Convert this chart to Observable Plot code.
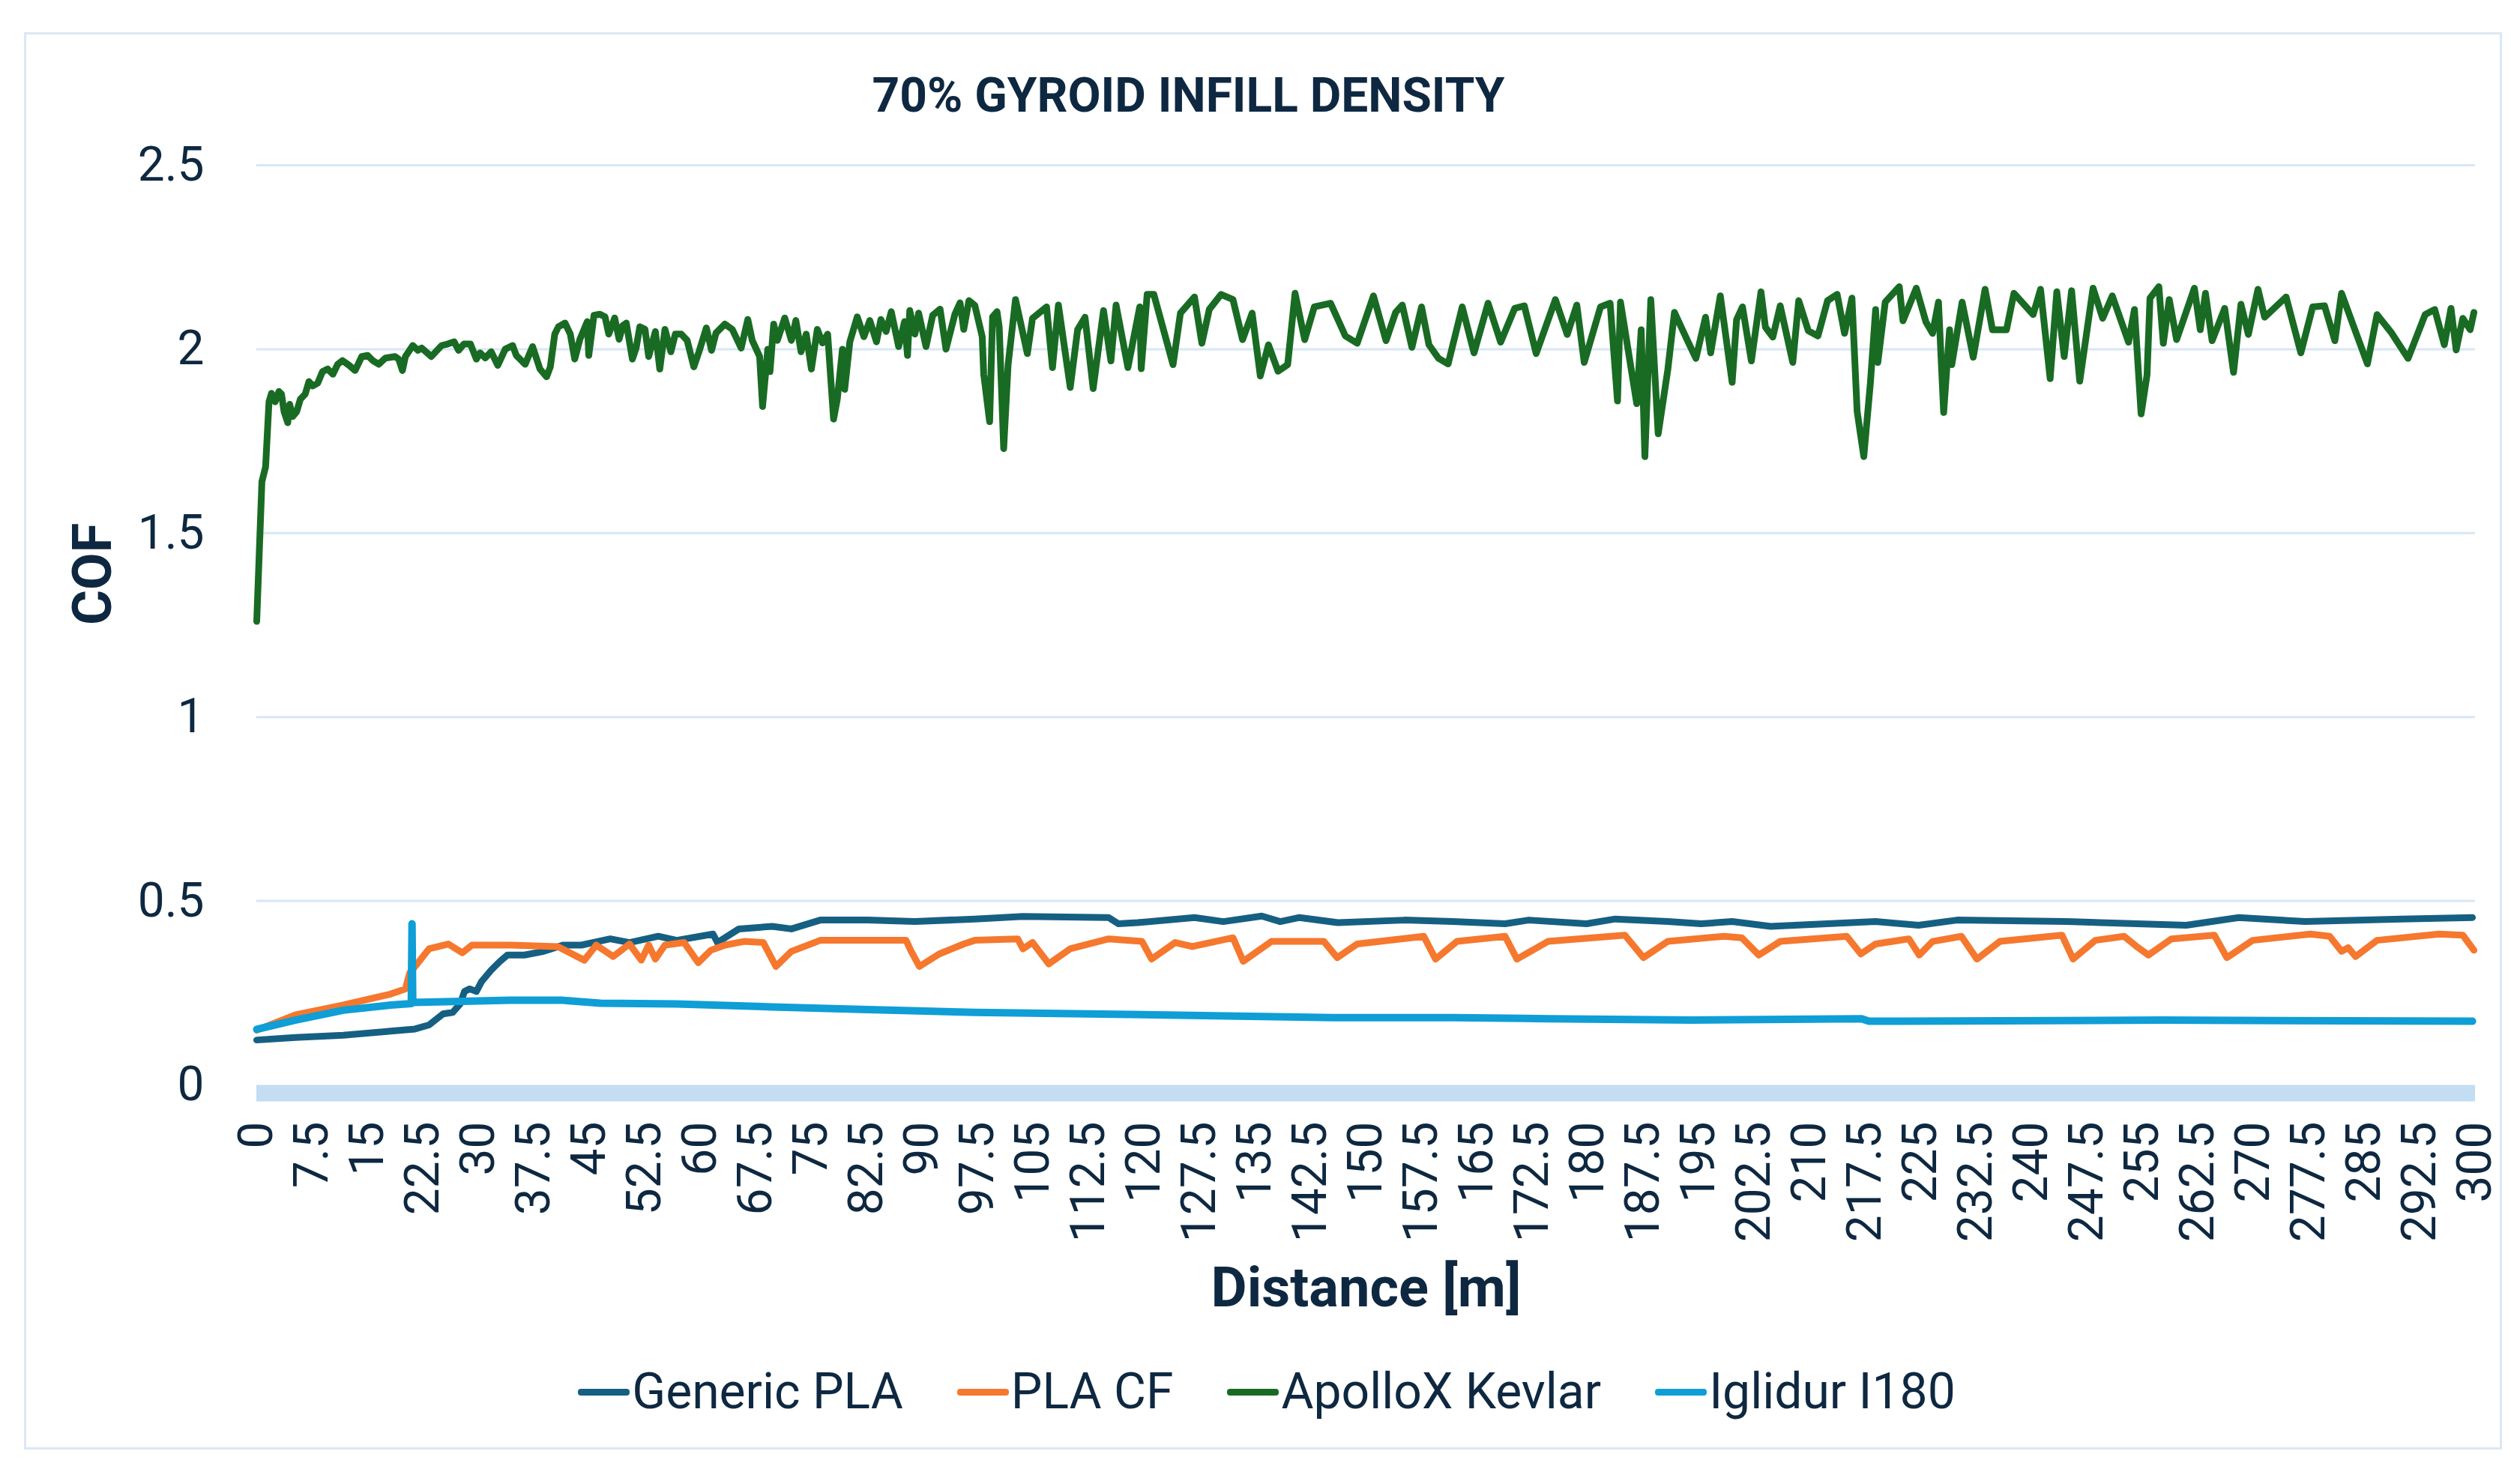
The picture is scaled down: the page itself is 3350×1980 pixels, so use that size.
<!DOCTYPE html>
<html>
<head>
<meta charset="utf-8">
<script src="https://cdn.jsdelivr.net/npm/d3@7"></script>
<script src="https://cdn.jsdelivr.net/npm/@observablehq/plot@0.6"></script>
<style>
  html, body { margin: 0; padding: 0; background: #ffffff; }
  #wrap { position: relative; width: 3350px; height: 1980px; overflow: hidden; font-family: Roboto, "Liberation Sans", sans-serif; color: #0E2841; }
  #frame { position: absolute; left: 32px; top: 43px; width: 3306px; height: 1891px; border: 3px solid #dbe8f4; box-sizing: border-box; }
  #chart { position: absolute; left: 0; top: 0; }
  #legend { position: absolute; left: 0; top: 1824px; width: 3380px; height: 66px; display: flex; justify-content: center; align-items: center; gap: 72px; font-size: 66px; line-height: 66px; }
  .item { display: flex; align-items: center; white-space: nowrap; }
  .sw { display: inline-block; width: 69px; height: 9px; border-radius: 4px; margin-right: 3px; }
</style>
</head>
<body>
<div id="wrap">
  <div id="frame"></div>
  <div id="chart"></div>
  <div id="legend"></div>
</div>
<script>
// ---- data: [distance m, COF] ----
const seriesNames = ["Generic PLA", "PLA CF", "ApolloX Kevlar", "Iglidur I180"];
const seriesColors = ["#156082", "#F5782E", "#196B24", "#0F9ED5"];

const genericPLA = [[0,0.122],[5.2,0.129],[11.7,0.135],[18.1,0.146],[21.4,0.152],[23.3,0.163],[25.2,0.193],[26.5,0.197],[27.5,0.22],[28.1,0.254],[28.8,0.261],[29.7,0.254],[30.4,0.281],[31.7,0.312],[32.9,0.336],[33.9,0.353],[36.2,0.353],[38.8,0.363],[41.4,0.38],[43.9,0.38],[47.8,0.397],[50.4,0.387],[54.3,0.404],[56.8,0.393],[61.7,0.41],[62.3,0.387],[65.2,0.424],[69.7,0.431],[72.3,0.424],[76.2,0.448],[82.6,0.448],[89,0.444],[97.1,0.451],[103.6,0.458],[115.2,0.455],[116.5,0.438],[119.1,0.441],[126.8,0.455],[130.7,0.444],[135.9,0.459],[138.4,0.444],[141,0.455],[146.2,0.441],[155.2,0.448],[161.7,0.444],[168.8,0.438],[172,0.448],[179.8,0.438],[183.7,0.451],[190.8,0.444],[195.3,0.438],[199.5,0.444],[204.7,0.431],[218.9,0.444],[224.7,0.434],[229.9,0.448],[244.7,0.444],[260.9,0.434],[268,0.455],[277,0.444],[290,0.451],[299.6,0.455]];

const plaCF = [[0,0.149],[5.2,0.19],[11.7,0.217],[18.1,0.247],[20.1,0.261],[20.7,0.305],[21.7,0.329],[23.3,0.37],[25.9,0.383],[27.8,0.359],[29.1,0.38],[34.3,0.38],[40.7,0.376],[44.3,0.339],[45.9,0.38],[48.2,0.349],[50.4,0.383],[52,0.339],[53,0.38],[53.9,0.342],[55.2,0.38],[57.8,0.387],[59.7,0.332],[61.4,0.366],[63.3,0.38],[65.9,0.39],[68.5,0.387],[70.2,0.322],[72.3,0.363],[76.2,0.393],[82.6,0.393],[87.8,0.393],[88.5,0.363],[89.6,0.322],[92.3,0.356],[95.6,0.383],[97.1,0.393],[102.9,0.397],[103.6,0.37],[104.9,0.387],[107.1,0.329],[110,0.37],[115.2,0.397],[119.7,0.39],[121,0.342],[124.2,0.387],[126.5,0.376],[132,0.4],[133.4,0.336],[137.2,0.39],[144.3,0.39],[146.1,0.346],[148.8,0.383],[157.8,0.404],[159.4,0.342],[162.3,0.39],[168.8,0.404],[170.4,0.342],[174.6,0.39],[185,0.407],[187.5,0.346],[190.8,0.39],[198.4,0.404],[200.8,0.4],[203.1,0.353],[206,0.39],[215,0.404],[216.9,0.356],[218.9,0.383],[223.4,0.397],[224.8,0.353],[226.6,0.39],[230.5,0.404],[232.6,0.342],[235.7,0.39],[244.1,0.407],[245.6,0.342],[248.6,0.393],[252.5,0.404],[254.4,0.373],[255.8,0.353],[258.9,0.397],[264.7,0.407],[266.4,0.346],[269.9,0.393],[277.7,0.41],[280.3,0.404],[281.9,0.363],[282.8,0.373],[283.8,0.349],[286.7,0.393],[295.1,0.41],[298.3,0.407],[299.8,0.366]];

const apolloXKevlar = [[0,1.26],[0.7,1.64],[1.2,1.68],[1.66,1.857],[2,1.88],[2.5,1.857],[3,1.885],[3.35,1.878],[3.7,1.83],[4.2,1.8],[4.46,1.85],[4.87,1.817],[5.4,1.83],[5.9,1.864],[6.56,1.878],[7.06,1.912],[7.57,1.9],[8.25,1.908],[8.9,1.939],[9.6,1.946],[10.3,1.932],[10.95,1.959],[11.6,1.969],[12.5,1.956],[13.3,1.942],[14.2,1.98],[15,1.983],[15.7,1.969],[16.5,1.959],[17.4,1.976],[18.7,1.98],[19.2,1.973],[19.7,1.942],[20.1,1.98],[21.1,2.01],[21.8,1.997],[22.3,2.003],[23.6,1.98],[25,2.01],[25.8,2.014],[26.7,2.02],[27.3,1.997],[28,2.014],[28.9,2.014],[29.7,1.973],[30.2,1.99],[30.9,1.976],[31.7,1.993],[32.6,1.956],[33.6,2],[34.6,2.01],[35.1,1.983],[35.6,1.973],[36.3,1.959],[37.3,2.007],[38.3,1.946],[39.2,1.925],[39.7,1.952],[40.3,2.041],[40.8,2.061],[41.7,2.071],[42.4,2.041],[43,1.973],[43.7,2.027],[44.7,2.075],[44.9,1.983],[45.6,2.092],[46.4,2.095],[47.1,2.088],[47.6,2.041],[48.4,2.085],[49,2.027],[49.5,2.064],[49.97,2.071],[50.8,1.973],[51.3,2.003],[51.8,2.061],[52.5,2.054],[53,1.98],[53.9,2.048],[54.5,1.946],[55.2,2.054],[56,1.993],[56.6,2.041],[57.4,2.041],[58.2,2.024],[59.1,1.952],[59.8,1.993],[60.8,2.058],[61.5,1.997],[62.1,2.044],[63.3,2.068],[64.3,2.054],[65.5,2.003],[66.4,2.081],[67,2.024],[68,1.98],[68.4,1.844],[69.1,2],[69.4,1.939],[69.9,2.068],[70.4,2.024],[71.4,2.085],[72.3,2.024],[72.9,2.078],[73.6,1.993],[74.3,2.041],[75,1.946],[75.8,2.054],[76.5,2.017],[77.2,2.041],[78,1.81],[78.5,1.864],[79.2,2],[79.5,1.891],[80.2,2.02],[81.2,2.088],[82.1,2.034],[82.9,2.078],[83.8,2.02],[84.4,2.081],[85.1,2.048],[85.8,2.102],[86.8,2.007],[87.6,2.075],[88,1.983],[88.3,2.105],[89,2.041],[89.5,2.098],[90.5,2.007],[91.4,2.092],[92.4,2.109],[93.2,2],[94.4,2.095],[95.1,2.126],[95.6,2.054],[96.3,2.132],[97.1,2.119],[98.1,2.034],[98.3,1.932],[99.1,1.803],[99.5,2.088],[100.1,2.102],[100.4,2.06],[101,1.73],[101.6,1.958],[102.6,2.135],[104.2,1.988],[104.9,2.084],[106.8,2.115],[107.6,1.95],[108.4,2.12],[110,1.896],[111,2.053],[112,2.087],[113.1,1.893],[114.5,2.105],[115.5,1.968],[116.2,2.12],[117.8,1.95],[119.4,2.115],[119.6,1.947],[120.4,2.149],[121.3,2.149],[123.9,1.958],[124.9,2.098],[126.8,2.142],[127.8,2.016],[128.8,2.108],[130.4,2.149],[132,2.135],[133.3,2.026],[134.6,2.098],[135.7,1.927],[136.8,2.012],[138.1,1.94],[139.4,1.958],[140.4,2.152],[141.7,2.026],[143,2.115],[145.2,2.125],[147.2,2.036],[148.8,2.016],[151,2.145],[152.7,2.023],[154,2.1],[154.9,2.12],[156.2,2.005],[157.5,2.115],[158.5,2.012],[159.8,1.975],[161.1,1.96],[163,2.115],[164.6,1.99],[166.5,2.125],[168.2,2.019],[170.1,2.111],[171.4,2.118],[173,1.988],[175.6,2.135],[177.2,2.04],[178.5,2.12],[179.5,1.964],[181.7,2.115],[183,2.125],[184,1.859],[184.4,2.128],[186.6,1.852],[187.2,2.053],[187.7,1.708],[188.5,2.135],[189.5,1.77],[190.8,1.944],[191.7,2.1],[193.4,2.026],[194.6,1.975],[195.9,2.087],[196.6,1.99],[197.9,2.145],[199.5,1.91],[200.1,2.08],[200.9,2.115],[202.1,1.968],[203.4,2.156],[204,2.06],[205,2.033],[206,2.118],[207.7,1.964],[208.5,2.132],[209.8,2.05],[211.1,2.036],[212.4,2.132],[213.7,2.149],[214.7,2.043],[215.7,2.139],[216.4,1.831],[217.3,1.708],[218.2,1.91],[218.9,2.108],[219.2,1.964],[220.2,2.128],[222.1,2.17],[222.6,2.077],[224.4,2.166],[225.7,2.074],[226.6,2.043],[227.4,2.128],[228.1,1.828],[228.9,2.053],[229.2,1.958],[230.6,2.128],[232.1,1.978],[233.7,2.163],[234.7,2.053],[236.6,2.053],[237.6,2.152],[240.2,2.094],[241.2,2.163],[242.5,1.92],[243.4,2.156],[244.4,1.98],[245.4,2.159],[246.5,1.913],[248.3,2.166],[249.6,2.084],[250.9,2.145],[253.1,2.019],[253.9,2.108],[254.8,1.824],[255.6,1.93],[256,2.139],[257.2,2.17],[257.8,2.016],[258.6,2.135],[259.6,2.026],[262,2.166],[262.8,2.053],[263.5,2.152],[264.4,2.023],[266.1,2.111],[267.3,1.937],[268.3,2.122],[269.3,2.04],[270.6,2.163],[271.5,2.087],[274.4,2.142],[276.4,1.99],[278,2.115],[279.6,2.118],[281,2.023],[281.9,2.152],[283.5,2.064],[285.4,1.96],[286.7,2.094],[288.6,2.046],[290.9,1.975],[293.2,2.094],[294.5,2.108],[295.8,2.012],[296.7,2.111],[297.4,1.998],[298.3,2.084],[299.3,2.053],[299.8,2.1]];

const iglidurI180 = [[0,0.151],[5.2,0.176],[11.7,0.203],[18.1,0.217],[20.9,0.221],[21,0.438],[21.1,0.224],[27.8,0.227],[34.3,0.23],[41.4,0.23],[46.5,0.222],[56.8,0.22],[69.7,0.212],[82.6,0.205],[97.1,0.197],[123,0.19],[145.6,0.183],[161.7,0.183],[174.6,0.18],[194,0.176],[217,0.18],[218,0.173],[257.6,0.176],[299.6,0.173]];

const xTicks = [0,7.5,15,22.5,30,37.5,45,52.5,60,67.5,75,82.5,90,97.5,105,112.5,120,127.5,135,142.5,150,157.5,165,172.5,180,187.5,195,202.5,210,217.5,225,232.5,240,247.5,255,262.5,270,277.5,285,292.5,300];
const yTicks = [0,0.5,1,1.5,2,2.5];

const allSeries = [genericPLA, plaCF, apolloXKevlar, iglidurI180];
const seriesWidths = [9, 9, 9, 10];

const textColor = "#0E2841";

const chart = Plot.plot({
  width: 3350,
  height: 1980,
  marginTop: 220,
  marginBottom: 533,
  marginLeft: 342,
  marginRight: 48,
  style: { fontFamily: "Roboto, 'Liberation Sans', sans-serif", fontSize: "64px", color: textColor, background: "transparent" },
  x: { domain: [0, 300], ticks: xTicks, tickRotate: -90, tickSize: 0, tickPadding: 49, tickFormat: d => String(d), label: null },
  y: { domain: [0, 2.5], ticks: yTicks, tickSize: 0, tickPadding: 70, tickFormat: d => String(d), label: null },
  marks: [
    Plot.ruleY(yTicks.filter(d => d > 0), { stroke: "#d8e7f5", strokeWidth: 3 }),
    Plot.ruleY([0], { stroke: "#c3ddf2", strokeWidth: 22, dy: 11 }),
    ...allSeries.map((s, i) => Plot.line(s, {
      x: d => d[0], y: d => d[1],
      stroke: seriesColors[i], strokeWidth: seriesWidths[i], strokeLinejoin: "round", strokeLinecap: "round"
    })),
    Plot.text(["70% GYROID INFILL DENSITY"], { text: d => d, frameAnchor: "top", dx: -237, dy: -72, lineAnchor: "bottom", fontSize: 64, fontWeight: "bold", fill: textColor }),
    Plot.text(["Distance [m]"], { text: d => d, frameAnchor: "bottom", dy: 295, lineAnchor: "bottom", fontSize: 74, fontWeight: "bold", fill: textColor }),
    Plot.text(["COF"], { text: d => d, frameAnchor: "left", dx: -218, rotate: -90, lineAnchor: "middle", fontSize: 72, fontWeight: "bold", fill: textColor })
  ]
});
document.getElementById("chart").appendChild(chart);

const legend = document.getElementById("legend");
seriesNames.forEach((name, i) => {
  const item = document.createElement("div");
  item.className = "item";
  const sw = document.createElement("span");
  sw.className = "sw";
  sw.style.background = seriesColors[i];
  const label = document.createElement("span");
  label.textContent = name;
  item.appendChild(sw);
  item.appendChild(label);
  legend.appendChild(item);
});
</script>
</body>
</html>
